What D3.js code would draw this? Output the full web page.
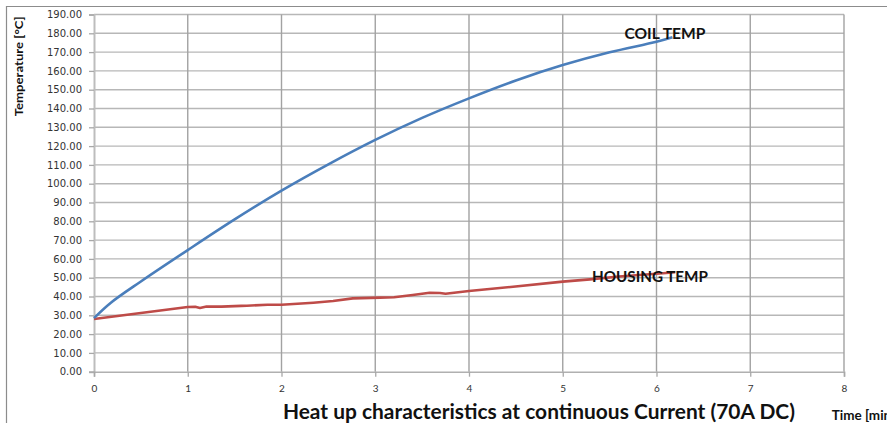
<!DOCTYPE html>
<html>
<head>
<meta charset="utf-8">
<script src="https://cdn.jsdelivr.net/npm/d3@7"></script>
<style>
  body { margin: 0; background: #fff; }
  svg { display: block; }
</style>
</head>
<body>
<div id="chart"></div>
<script>
// coil temperature readings (time in minutes, temp in °C)
var coilTime = [0, 0.18, 0.5, 1, 1.5, 2, 2.5, 3, 3.5, 4, 4.5, 5, 5.5, 6, 6.17];
var coilTemp = [28.5, 36.7, 48, 64.7, 81, 96.3, 110.3, 123.3, 135, 145.4, 154.9, 163.1, 169.9, 175.5, 177.9];

// housing temperature readings
var housingTime = [0, 1.0, 1.08, 1.13, 1.2, 1.36, 1.57, 1.63, 1.85, 2.0, 2.34, 2.55, 2.76, 3.05, 3.2, 3.4, 3.58, 3.69, 3.75, 4.0, 4.47, 5.0, 5.29, 5.6, 6.07, 6.2];
var housingTemp = [28, 34.4, 34.5, 33.9, 34.7, 34.6, 35.0, 35.1, 35.6, 35.6, 36.7, 37.6, 39.0, 39.4, 39.6, 40.8, 42.0, 41.9, 41.5, 42.9, 45.2, 47.9, 49.1, 50.6, 52.4, 52.9];

// axis ticks
var xTicks = [0, 1, 2, 3, 4, 5, 6, 7, 8];
var yTicks = d3.range(0, 191, 10);

var width = 887, height = 423;

var svg = d3.select('#chart')
  .append('svg')
  .attr('width', width)
  .attr('height', height);

var x = d3.scaleLinear().domain([0, 8]).range([94, 844]);
var y = d3.scaleLinear().domain([0, 190]).range([371.7, 14.5]);

// outer chart frame (cropped on right and bottom)
svg.append('path')
  .attr('d', 'M6.5,' + height + 'V6.5H' + width)
  .attr('fill', 'none')
  .attr('stroke', '#8c8c8c')
  .attr('stroke-width', 1.2);

// horizontal gridlines
svg.append('g')
  .selectAll('line')
  .data(yTicks.filter(function(d) { return d > 0; }))
  .enter().append('line')
  .attr('x1', x(0)).attr('x2', x(8))
  .attr('y1', function(d) { return y(d); })
  .attr('y2', function(d) { return y(d); })
  .attr('stroke', '#b7b7b7')
  .attr('stroke-width', 1.4);

// vertical gridlines
svg.append('g')
  .selectAll('line')
  .data(xTicks.filter(function(d) { return d > 0; }))
  .enter().append('line')
  .attr('x1', function(d) { return x(d); })
  .attr('x2', function(d) { return x(d); })
  .attr('y1', y(190)).attr('y2', y(0))
  .attr('stroke', '#a2a2a2')
  .attr('stroke-width', 1.4);

// y axis
var yAxis = svg.append('g')
  .attr('transform', 'translate(' + x(0) + ',0)')
  .call(d3.axisLeft(y).tickValues(yTicks).tickFormat(d3.format('.2f')).tickSize(5).tickPadding(7));
yAxis.select('.domain').attr('stroke', '#bdbdbd').attr('stroke-width', 2);
yAxis.selectAll('.tick line').attr('stroke', '#a8a8a8').attr('stroke-width', 1.3);
yAxis.selectAll('.tick text')
  .attr('font-family', 'DejaVu Sans, Verdana, sans-serif')
  .attr('font-size', 10)
  .attr('fill', '#333');

// x axis
var xAxis = svg.append('g')
  .attr('transform', 'translate(0,' + y(0) + ')')
  .call(d3.axisBottom(x).tickValues(xTicks).tickFormat(d3.format('d')).tickSize(5).tickPadding(8));
xAxis.select('.domain').attr('stroke', '#b0b0b0').attr('stroke-width', 1.6);
xAxis.selectAll('.tick line').attr('stroke', '#a8a8a8').attr('stroke-width', 1.3);
xAxis.selectAll('.tick text')
  .attr('font-family', 'Lato, sans-serif')
  .attr('font-size', 10)
  .attr('fill', '#333');

// series lines
var coilLine = d3.line()
  .x(function(d, i) { return x(coilTime[i]); })
  .y(function(d) { return y(d); })
  .curve(d3.curveCatmullRom.alpha(0.5));

var housingLine = d3.line()
  .x(function(d, i) { return x(housingTime[i]); })
  .y(function(d) { return y(d); });

svg.append('path')
  .datum(housingTemp)
  .attr('d', housingLine)
  .attr('fill', 'none')
  .attr('stroke', '#be4b48')
  .attr('stroke-width', 2.6)
  .attr('stroke-linejoin', 'round');

svg.append('path')
  .datum(coilTemp)
  .attr('d', coilLine)
  .attr('fill', 'none')
  .attr('stroke', '#4a7ebb')
  .attr('stroke-width', 2.6)
  .attr('stroke-linejoin', 'round');

// series labels
svg.append('text')
  .attr('x', x(6.09)).attr('y', y(177))
  .attr('text-anchor', 'middle')
  .attr('font-family', 'Lato, sans-serif')
  .attr('font-weight', 'bold')
  .attr('font-size', 16)
  .attr('textLength', 81)
  .attr('lengthAdjust', 'spacingAndGlyphs')
  .attr('fill', '#111')
  .text('COIL TEMP');

svg.append('text')
  .attr('x', x(5.93)).attr('y', y(47.7))
  .attr('text-anchor', 'middle')
  .attr('font-family', 'Lato, sans-serif')
  .attr('font-weight', 'bold')
  .attr('font-size', 16)
  .attr('textLength', 116)
  .attr('lengthAdjust', 'spacingAndGlyphs')
  .attr('fill', '#111')
  .text('HOUSING TEMP');

// y axis title
svg.append('text')
  .attr('transform', 'translate(22.5,66.3) rotate(-90)')
  .attr('text-anchor', 'middle')
  .attr('font-family', 'Lato, sans-serif')
  .attr('font-weight', 'bold')
  .attr('font-size', 11.5)
  .attr('textLength', 100)
  .attr('lengthAdjust', 'spacingAndGlyphs')
  .attr('fill', '#111')
  .text('Temperature [°C]');

// chart title
svg.append('text')
  .attr('x', 538.9).attr('y', 419)
  .attr('text-anchor', 'middle')
  .attr('font-family', 'Lato, sans-serif')
  .attr('font-weight', 'bold')
  .attr('font-size', 21)
  .attr('textLength', 512)
  .attr('lengthAdjust', 'spacingAndGlyphs')
  .attr('fill', '#111')
  .text('Heat up characteristics at continuous Current (70A DC)');

// x axis title (runs off the right edge)
svg.append('text')
  .attr('x', 831.7).attr('y', 420)
  .attr('font-family', 'Lato, sans-serif')
  .attr('font-weight', 'bold')
  .attr('font-size', 13.5)
  .attr('fill', '#111')
  .text('Time [min]');
</script>
</body>
</html>
